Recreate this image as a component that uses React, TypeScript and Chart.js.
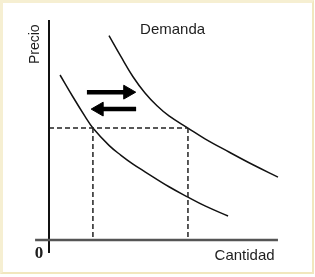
import React, { useEffect, useRef } from "react";
import { Chart, registerables } from "chart.js";

Chart.register(...registerables);

// Curve points (Cantidad, Precio) in chart units
const demandaAltaX = [2.5, 3.0, 3.5, 4.0, 4.5, 5.0, 5.79, 6.5, 7.5, 8.5, 9.54];
const demandaAltaY = [9.29, 8.33, 7.42, 6.68, 6.1, 5.64, 5.09, 4.6, 4.0, 3.42, 2.86];
const demandaBajaX = [0.46, 1.0, 1.5, 1.83, 2.5, 3.0, 3.5, 4.0, 5.0, 5.79, 6.5, 7.46];
const demandaBajaY = [7.5, 6.5, 5.62, 5.09, 4.3, 3.85, 3.45, 3.1, 2.42, 1.95, 1.55, 1.09];

const precio = 5.09;
const cantidades = [1.83, 5.79];

// Arrows: [startX, endX, y]
const flechaDerecha = [1.58, 3.58, 6.72];
const flechaIzquierda = [3.63, 1.79, 5.95];

// Axis extents
const ejeX = [-0.58, 9.54];
const ejeY = [-0.59, 10];

// Text labels
const etiquetas = [
  { text: "Demanda", x: 5.15, y: 9.55, font: "15px 'Liberation Sans', Arial, sans-serif", rot: 0 },
  { text: "Cantidad", x: 8.15, y: -0.73, font: "15px 'Liberation Sans', Arial, sans-serif", rot: 0 },
  { text: "Precio", x: -0.57, y: 8.9, font: "14px 'Liberation Sans', Arial, sans-serif", rot: -Math.PI / 2 },
  { text: "0", x: -0.42, y: -0.64, font: "bold 17px 'Liberation Serif', 'Times New Roman', serif", rot: 0 },
];

const pts = (xs: number[], ys: number[]) => xs.map((x, i) => ({ x, y: ys[i] }));

export default function App() {
  const ref = useRef<HTMLCanvasElement | null>(null);

  useEffect(() => {
    if (!ref.current) return;
    const labelPlugin = {
      id: "labels",
      afterDatasetsDraw(chart: any) {
        const { ctx, scales } = chart;
        ctx.save();
        ctx.fillStyle = "#1e1e1e";
        ctx.textAlign = "center";
        ctx.textBaseline = "middle";
        for (const l of etiquetas) {
          const px = scales.x.getPixelForValue(l.x);
          const py = scales.y.getPixelForValue(l.y);
          ctx.save();
          ctx.translate(px, py);
          ctx.rotate(l.rot);
          ctx.font = l.font;
          ctx.fillText(l.text, 0, 0);
          ctx.restore();
        }
        ctx.restore();
      },
    };

    const arrowHead = (a: number[]) => {
      const dir = a[1] > a[0] ? 1 : -1;
      return [{ x: a[1] - dir * 0.3, y: a[2] }];
    };

    const curve = (xs: number[], ys: number[]) => ({
      data: pts(xs, ys),
      showLine: true,
      borderColor: "#111111",
      borderWidth: 1.5,
      tension: 0.4,
      pointRadius: 0,
    });

    const chart = new Chart(ref.current, {
      type: "scatter",
      data: {
        datasets: [
          {
            data: [{ x: ejeX[0], y: 0 }, { x: ejeX[1], y: 0 }],
            showLine: true,
            borderColor: "#555555",
            borderWidth: 2.5,
            pointRadius: 0,
            clip: false as any,
          },
          {
            data: [{ x: 0, y: ejeY[0] }, { x: 0, y: ejeY[1] }],
            showLine: true,
            borderColor: "#111111",
            borderWidth: 2,
            pointRadius: 0,
            clip: false as any,
          },
          {
            data: [{ x: 0, y: precio }, { x: cantidades[1], y: precio }],
            showLine: true,
            borderColor: "#222222",
            borderWidth: 1.5,
            borderDash: [5, 3],
            pointRadius: 0,
          },
          ...cantidades.map((q) => ({
            data: [{ x: q, y: precio }, { x: q, y: 0 }],
            showLine: true,
            borderColor: "#222222",
            borderWidth: 1.5,
            borderDash: [5, 3],
            pointRadius: 0,
          })),
          curve(demandaAltaX, demandaAltaY),
          curve(demandaBajaX, demandaBajaY),
          ...[flechaDerecha, flechaIzquierda].map((a) => ({
            data: [{ x: a[0], y: a[2] }, { x: a[1] - (a[1] > a[0] ? 0.3 : -0.3), y: a[2] }],
            showLine: true,
            borderColor: "#000000",
            borderWidth: 4.5,
            pointRadius: 0,
          })),
          ...[flechaDerecha, flechaIzquierda].map((a) => ({
            data: arrowHead(a),
            showLine: false,
            pointStyle: "triangle" as any,
            rotation: a[1] > a[0] ? 90 : -90,
            pointRadius: 8,
            backgroundColor: "#000000",
            borderColor: "#000000",
            borderWidth: 1,
          })),
        ],
      },
      options: {
        responsive: false,
        animation: false,
        devicePixelRatio: 1,
        layout: { padding: { left: 49, right: 26, top: 20, bottom: 37 } },
        plugins: { legend: { display: false }, tooltip: { enabled: false } },
        scales: {
          x: { type: "linear", min: 0, max: 10, display: false },
          y: { type: "linear", min: 0, max: 10, display: false },
        },
      },
      plugins: [labelPlugin],
    });
    return () => chart.destroy();
  }, []);

  return (
    <div style={{ position: "absolute", left: 0, top: 0, width: 315, height: 277, background: "#ffffff" }}>
      <canvas ref={ref} width={315} height={277} style={{ display: "block" }} />
      <div
        style={{
          position: "absolute",
          left: 0,
          top: 0,
          width: 314,
          height: 274,
          boxSizing: "border-box",
          borderTop: "3px solid #f6efd2",
          borderLeft: "3px solid #f6efd2",
          borderRight: "2px solid #f1e7be",
          borderBottom: "2px solid #f1e7be",
          pointerEvents: "none",
        }}
      />
    </div>
  );
}
